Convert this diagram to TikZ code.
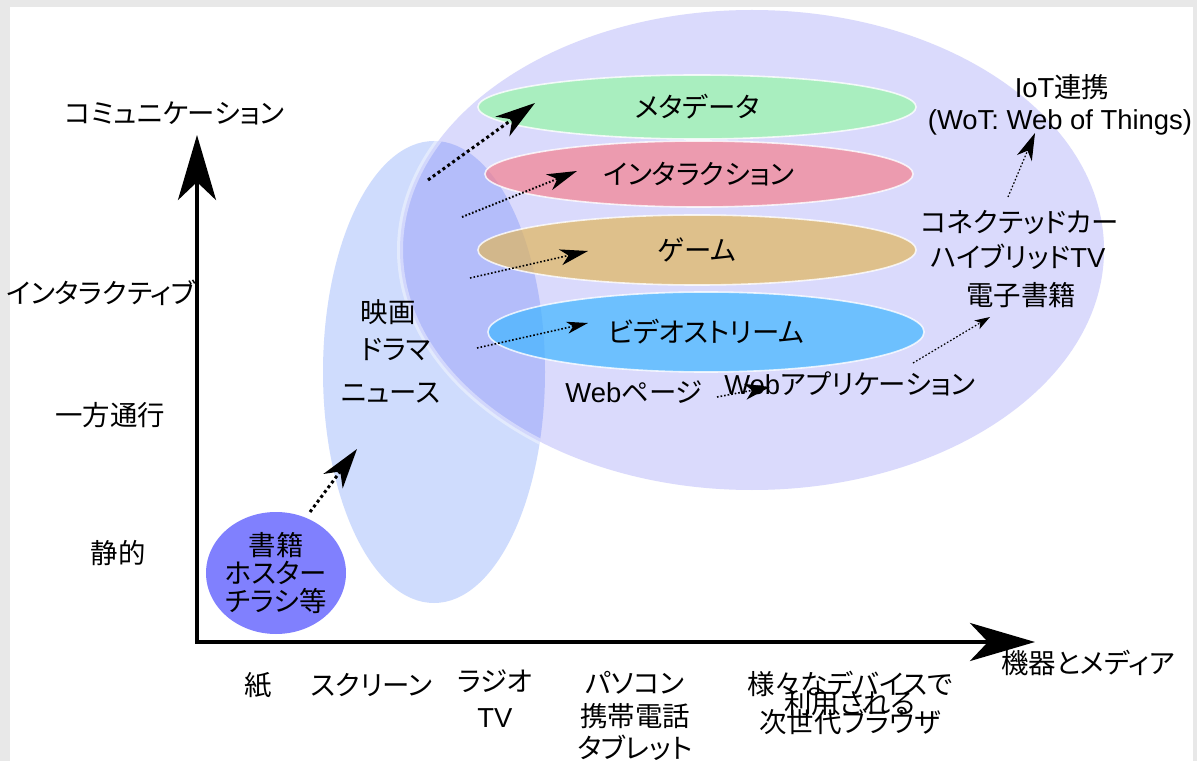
\documentclass[tikz,border=0pt]{standalone}
\usepackage{fontspec}
\setmainfont[RawFeature=+palt]{Noto Sans CJK JP}
\newfontfamily\lat{Liberation Sans}
\usetikzlibrary{arrows.meta,shapes.geometric}

\definecolor{framegray}{RGB}{232,232,232}
\definecolor{lavender}{RGB}{218,218,252}
\definecolor{paleblue}{RGB}{207,220,253}
\definecolor{overlapblue}{RGB}{180,189,250}
\definecolor{bookblue}{RGB}{128,128,254}
\definecolor{metagreen}{RGB}{149,247,166}
\definecolor{interpink}{RGB}{244,129,143}
\definecolor{gametan}{RGB}{224,181,92}
\definecolor{videoblue}{RGB}{64,181,255}

\def\jfont{\fontsize{19.5}{19.5}\selectfont}
\newcommand\jlines[1]{\fontsize{19.5}{#1}\selectfont\lineskiplimit=-100pt}

\tikzset{
	lbl/.style={inner sep=0pt, font=\jfont},
	band/.style={ellipse, draw=white, draw opacity=0.8, line width=0.04cm, fill opacity=0.7, text opacity=1, inner sep=0pt, font=\jfont},
	axis/.style={line width=0.1cm, >={Stealth[length=1.625cm, width=0.95cm, inset=0.45cm]}, <->},
	thickdots/.style={line width=0.075cm, dash pattern=on 0.075cm off 0.075cm},
	thindots/.style={line width=0.04cm, dash pattern=on 0.04cm off 0.05cm},
}

\begin{document}
\begin{tikzpicture}[x=0.025cm, y=-0.025cm]
		%%%%% START %%%%%
		
		\useasboundingbox (0, 0) rectangle (1197, 761);
		\fill[framegray] (0, 0) rectangle (1197, 761);
		\fill[white] (10, 7) rectangle (1193, 761);
		
		\fill[paleblue] (434, 372) ellipse [x radius=111, y radius=231];
		\fill[lavender] (752, 250) ellipse [x radius=352, y radius=240];
		\begin{scope}
			\clip (752, 250) ellipse [x radius=352, y radius=240];
			\fill[overlapblue] (434, 372) ellipse [x radius=111, y radius=231];
		\end{scope}
		\begin{scope}
			\clip (434, 372) ellipse [x radius=111, y radius=231];
			\draw[white, opacity=0.4, line width=0.15cm] (752, 250) ellipse [x radius=352, y radius=240];
		\end{scope}
		
		\node[band, fill=metagreen, minimum width=10.95cm, minimum height=1.6cm] (meta) at (697, 107) {メタデータ};
		\node[band, fill=interpink, minimum width=10.7cm, minimum height=1.65cm] (inter) at (699, 174) {インタラクション};
		\node[band, fill=gametan, minimum width=10.95cm, minimum height=1.75cm] (game) at (697, 250) {ゲーム};
		\node[band, fill=videoblue, minimum width=10.9cm, minimum height=2cm] (video) at (706, 332) {ビデオストリーム};
		
		\fill[bookblue] (276, 573) ellipse [x radius=70, y radius=61];
		\node[lbl, align=center, font=\jlines{19.6}] (book) at (276, 573) {書籍\\ホスター\\チラシ等};
		
		\coordinate (ytop) at (197, 135);
		\coordinate (origin) at (197, 642);
		\coordinate (xend) at (1035, 642);
		\draw[axis] (ytop) -- (origin) -- (xend);
		
		\node[lbl] (comm) at (175, 113) {コミュニケーション};
		\node[lbl] (interactive) at (101, 293) {インタラクティブ};
		\node[lbl] (oneway) at (110, 415) {一方通行};
		\node[lbl] (static) at (118, 553) {静的};
		
		\node[lbl] (paper) at (258, 685) {紙};
		\node[lbl] (screen) at (372, 685) {スクリーン};
		\node[lbl] (radio) at (495, 681) {ラジオ};
		\node[lbl] (tv) at (495, 718) {\lat TV};
		\node[lbl, align=center, font=\jlines{23.1}] (pc) at (635, 716) {パソコン\\携帯電話\\タブレット};
		\node[lbl, align=center, font=\jlines{13.5}] (browser) at (850, 703) {様々なデバイスで\\利用される\\次世代ブラウザ};
		\node[lbl] (media) at (1088, 663) {機器とメディア};
		
		\node[lbl] (movie) at (388, 312) {映画};
		\node[lbl] (drama) at (396, 350) {ドラマ};
		\node[lbl] (news) at (391, 393) {ニュース};
		
		\node[lbl] (webpage) at (634, 392) {{\lat Web}ページ};
		\node[lbl] (webapp) at (850, 384) {{\lat Web}アプリケーション};
		
		\node[lbl] (iot) at (1062, 87) {{\lat IoT}連携};
		\node[lbl] (wot) at (1060, 122) {\lat (WoT: Web of Things)};
		\node[lbl] (car) at (1020, 222) {コネクテッドカー};
		\node[lbl] (hybrid) at (1018, 257) {ハイブリッド{\lat TV}};
		\node[lbl] (ebook) at (1021, 295) {電子書籍};
		
		\coordinate (booktail) at (310, 512);
		\coordinate (booktip) at (357, 449);
		\coordinate (metatail) at (428, 180);
		\coordinate (metatip) at (535, 103);
		\coordinate (intertail) at (462, 217);
		\coordinate (intertip) at (577, 171);
		\coordinate (gametail) at (470, 278);
		\coordinate (gametip) at (588, 251);
		\coordinate (videotail) at (477, 348);
		\coordinate (videotip) at (588, 323);
		\coordinate (webtail) at (717, 397);
		\coordinate (webtip) at (770, 387);
		\coordinate (ebooktail) at (913, 363);
		\coordinate (ebooktip) at (990, 317);
		\coordinate (iottail) at (1008, 197);
		\coordinate (iottip) at (1035, 133);
		
		\draw[thickdots, -{Stealth[length=1cm, width=0.6cm, inset=0.3cm]}] (booktail) -- (booktip);
		\draw[thickdots, -{Stealth[length=1cm, width=0.6cm, inset=0.3cm]}] (metatail) -- (metatip);
		\draw[thindots, line width=0.05cm, -{Stealth[length=0.75cm, width=0.42cm, inset=0.22cm]}] (intertail) -- (intertip);
		\draw[thindots, -{Stealth[length=0.7cm, width=0.4cm, inset=0.2cm]}] (gametail) -- (gametip);
		\draw[thindots, -{Stealth[length=0.53cm, width=0.3cm, inset=0.15cm]}] (videotail) -- (videotip);
		\draw[thindots, -{Stealth[length=0.63cm, width=0.4cm, inset=0.18cm]}] (webtail) -- (webtip);
		\draw[thindots, line width=0.03cm, -{Stealth[length=0.38cm, width=0.25cm, inset=0.1cm]}] (ebooktail) -- (ebooktip);
		\draw[thindots, line width=0.03cm, -{Stealth[length=0.68cm, width=0.4cm, inset=0.2cm]}] (iottail) -- (iottip);
		
		%%%%% END %%%%%
	\end{tikzpicture}
\end{document}
